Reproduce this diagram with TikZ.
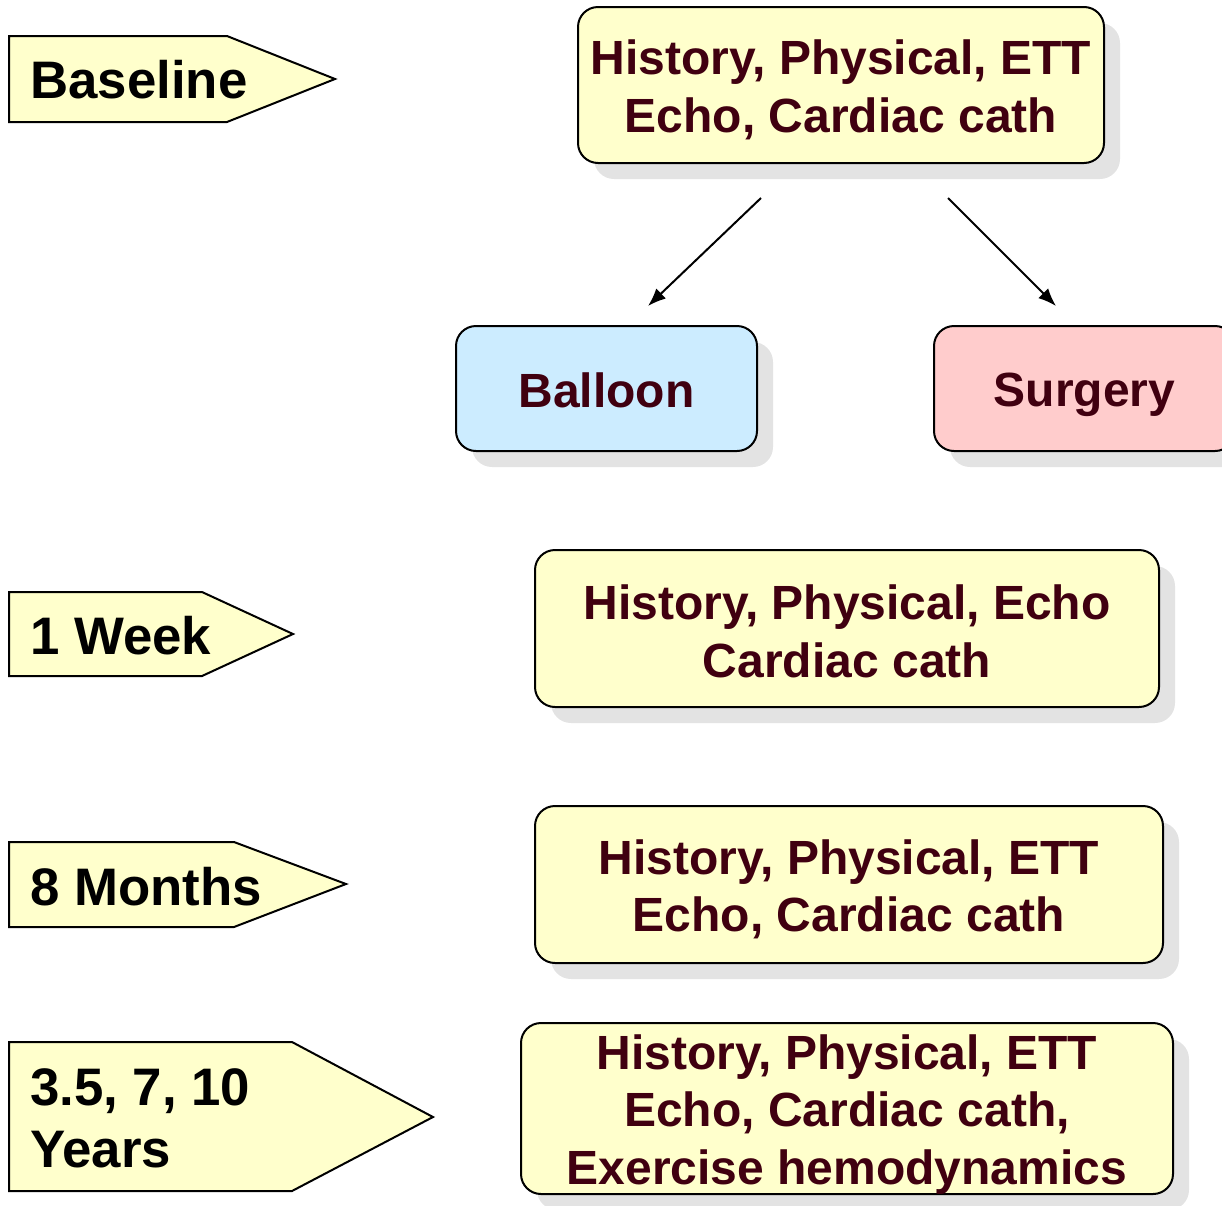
\documentclass[tikz,border=0pt]{standalone}
\usepackage{fontspec}
\setmainfont{Liberation Sans}
\usetikzlibrary{shadows,arrows.meta,calc}
\definecolor{boxyellow}{HTML}{FFFFCC}
\definecolor{boxblue}{HTML}{CCECFF}
\definecolor{boxpink}{HTML}{FFCCCC}
\definecolor{shadowgray}{HTML}{E3E3E3}
\definecolor{txtred}{RGB}{64,0,16}
\begin{document}
\begin{tikzpicture}[x=1pt,y=-1pt,
  stagebox/.style={draw=black, line width=2pt, rounded corners=20pt, inner sep=0pt,
    drop shadow={shadow xshift=16pt, shadow yshift=-16pt, fill=shadowgray, opacity=1}},
  boxtext/.style={align=center, inner sep=0pt, text=txtred, font=\bfseries\fontsize{48}{57.5}\selectfont},
  tagshape/.style={draw=black, line width=2pt, fill=boxyellow, line join=miter},
  tagtext/.style={inner sep=0pt, text=black, font=\bfseries\fontsize{52.8}{60}\selectfont, anchor=base west},
  link/.style={line width=2pt, -{Latex[length=18pt,width=14pt]}}
]
\useasboundingbox (0,0) rectangle (1222,1205);
\clip (0,0) rectangle (1222,1205);

% tags
\draw[tagshape] (9,36) -- (227,36) -- (335,79) -- (227,122) -- (9,122) -- cycle;
\node[tagtext] (tBase) at (30,98) {Baseline};
\draw[tagshape] (9,592) -- (202,592) -- (293,634) -- (202,676) -- (9,676) -- cycle;
\node[tagtext] (tWeek) at (30,654) {1 Week};
\draw[tagshape] (9,842) -- (234,842) -- (346,884) -- (234,927) -- (9,927) -- cycle;
\node[tagtext] (tMonths) at (30,905) {8 Months};
\draw[tagshape] (9,1042) -- (292,1042) -- (433,1117) -- (292,1191) -- (9,1191) -- cycle;
\node[tagtext] (tYearsA) at (30,1105) {3.5, 7, 10};
\node[tagtext] (tYearsB) at (30,1167) {Years};

% boxes
\node[stagebox, fill=boxyellow, minimum width=526pt, minimum height=156pt] (top) at (841,85) {};
\node[boxtext] (topT) at ($(top.center)+(0,5)$) {History, Physical, ETT\\Echo, Cardiac cath};
\node[stagebox, fill=boxblue, minimum width=301pt, minimum height=125pt] (balloon) at (606.5,388.5) {};
\node[boxtext] (balloonT) at ($(balloon.center)+(0,2)$) {Balloon};
\node[stagebox, fill=boxpink, minimum width=301pt, minimum height=125pt] (surgery) at (1084.5,388.5) {};
\node[boxtext] (surgeryT) at ($(surgery.center)+(0,6)$) {Surgery};
\node[stagebox, fill=boxyellow, minimum width=624pt, minimum height=157pt] (week) at (847,628.5) {};
\node[boxtext] (weekT) at ($(week.center)+(0,3)$) {History, Physical, Echo\\Cardiac cath};
\node[stagebox, fill=boxyellow, minimum width=628pt, minimum height=157pt] (months) at (849,884.5) {};
\node[boxtext] (monthsT) at ($(months.center)+(0,5)$) {History, Physical, ETT\\Echo, Cardiac cath};
\node[stagebox, fill=boxyellow, minimum width=652pt, minimum height=171pt] (years) at (847,1108.5) {};
\node[boxtext] (yearsT) at ($(years.center)+(0,6)$) {History, Physical, ETT\\Echo, Cardiac cath,\\Exercise hemodynamics};

% connectors
\coordinate (lS) at (761,198);
\coordinate (lE) at (648,306);
\coordinate (rS) at (948,198);
\coordinate (rE) at (1056,306);
\draw[link] (lS) -- (lE);
\draw[link] (rS) -- (rE);
\end{tikzpicture}
\end{document}
